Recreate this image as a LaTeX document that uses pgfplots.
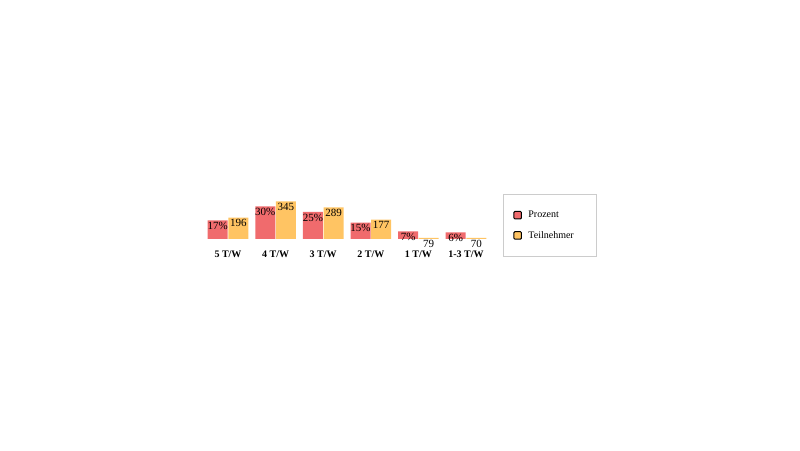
\documentclass[border=0pt]{standalone}
\usepackage{fontspec}
\setmainfont{Liberation Serif}
\usepackage{pgfplots}
\pgfplotsset{compat=1.18}
\definecolor{prozRed}{HTML}{F06B6D}
\definecolor{teilOrange}{HTML}{FFC463}

\pgfplotsset{
  barbase/.style={
    scale only axis,
    width=285.6pt, height=43.6pt,
    at={(204.2pt,211pt)}, anchor=south west,
    xmin=-0.5, xmax=5.5, ymin=0,
    axis line style={draw=none},
    tick style={draw=none},
    ytick=\empty,
    clip=false,
    ybar,
    point meta=explicit symbolic,
    every node near coord/.append style={anchor=north, font=\fontsize{11}{13}\selectfont, inner sep=1.8pt, black},
  },
}

\begin{document}
\begin{tikzpicture}
\useasboundingbox (0,0) rectangle (800pt,450pt);

% Prozent
\begin{axis}[barbase,
  ymax=40,
  xtick={0,...,5},
  xticklabels={5 T/W, 4 T/W, 3 T/W, 2 T/W, 1 T/W, 1-3 T/W},
  xticklabel style={font=\bfseries\fontsize{10}{12}\selectfont, yshift=-4pt},
  nodes near coords={\pgfplotspointmeta\%},
  legend style={at={(298.8pt,45pt)}, anchor=north west, draw=black!20, line width=0.8pt,
    inner xsep=10pt, inner ysep=15.5pt, row sep=9pt,
    font=\fontsize{10}{12}\selectfont, nodes={inner sep=1.5pt},
    /tikz/every odd column/.append style={column sep=5pt}},
  legend cell align=left,
  legend image code/.code={\draw[#1, draw=black, line width=1pt, rounded corners=1pt] (0pt,-3.5pt) rectangle (7.5pt,4pt);},
]
\addplot[fill=prozRed, draw=none, bar width=20pt, bar shift=-10.3pt] coordinates {
  (0,17) [17]
  (1,30) [30]
  (2,25) [25]
  (3,15) [15]
  (4,7) [7]
  (5,6) [6]
};
\addlegendentry{\makebox[56pt][l]{Prozent}}
\addlegendimage{fill=teilOrange}
\addlegendentry{\makebox[56pt][l]{Teilnehmer}}
\end{axis}

% Teilnehmer
\begin{axis}[barbase,
  ymax=400,
  xtick=\empty,
  nodes near coords={\pgfplotspointmeta},
]
\addplot[fill=teilOrange, draw=none, bar width=20pt, bar shift=10.3pt] coordinates {
  (0,196) [196]
  (1,345) [345]
  (2,289) [289]
  (3,177) [177]
  (4,10) [79]
  (5,10) [70]
};
\end{axis}
\end{tikzpicture}
\end{document}
